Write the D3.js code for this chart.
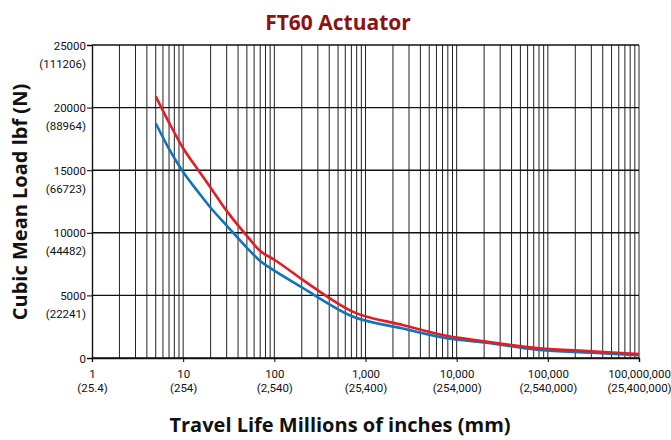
<!DOCTYPE html>
<html>
<head>
<meta charset="utf-8">
<script src="https://cdn.jsdelivr.net/npm/d3@7"></script>
<style>
body { margin: 0; background: #fff; }
svg text { font-family: "Open Sans", sans-serif; }
svg .tick text { font-family: Roboto, sans-serif; }
</style>
</head>
<body>
<script>
// travel life (millions of inches) and cubic mean load (lbf)
const travel = [5, 7, 10, 15, 20, 30, 50, 70, 100, 200, 300, 700, 2500, 8000, 20000, 80000, 300000, 1000000];
const loadRed = [20900, 18800, 16750, 14900, 13600, 11750, 9750, 8550, 7850, 6300, 5400, 3750, 2650, 1750, 1330, 780, 540, 320];
const loadBlue = [18750, 16700, 14850, 13150, 12000, 10580, 8800, 7750, 6980, 5650, 4850, 3350, 2380, 1570, 1250, 640, 420, 220];

const yTicks = [0, 5000, 10000, 15000, 20000, 25000];
const yTickNewtons = ["", "(22241)", "(44482)", "(66723)", "(88964)", "(111206)"];
const xTicks = [1, 10, 100, 1000, 10000, 100000, 1000000];
const xTickLabels = ["1", "10", "100", "1,000", "10,000", "100,000", "100,000,000"];
const xTickMm = ["(25.4)", "(254)", "(2,540)", "(25,400)", "(254,000)", "(2,540,000)", "(25,400,000)"];

function draw() {
    let width = 671, height = 440;
    let left = 92, right = 639, top = 45, bottom = 358;

    var svg = d3.select("body")
                .append("svg")
                .attr("width", width)
                .attr("height", height);

    var xScale = d3.scaleLog()
                .domain([1, 1000000])
                .range([left, right]);

    var yScale = d3.scaleLinear()
                .domain([0, 25000])
                .range([bottom, top]);

    // vertical grid: every 1..9 step inside each decade
    let minor = [];
    for (let d = 1; d < 1000000; d *= 10) {
        for (let k = 2; k <= 10; k++) minor.push(k * d);
    }
    svg.append("g")
       .selectAll("line")
       .data(minor)
       .join("line")
       .attr("x1", (d) => xScale(d))
       .attr("x2", (d) => xScale(d))
       .attr("y1", top)
       .attr("y2", bottom)
       .style("stroke", "#222")
       .style("stroke-width", 1);

    // horizontal grid
    svg.append("g")
       .selectAll("line")
       .data(yTicks)
       .join("line")
       .attr("x1", left)
       .attr("x2", right)
       .attr("y1", (d) => yScale(d))
       .attr("y2", (d) => yScale(d))
       .style("stroke", "#111")
       .style("stroke-width", 1.4);

    var yAxis = d3.axisLeft(yScale)
                .tickValues(yTicks)
                .tickSize(5)
                .tickFormat((d) => d);

    var gy = svg.append("g")
       .attr("transform", `translate(${left}, 0)`)
       .call(yAxis);
    gy.select(".domain").style("stroke", "#111").style("stroke-width", 1.4);
    gy.selectAll("text")
      .attr("x", -6)
      .attr("dy", "0.35em")
      .style("font-size", "11.5px")
      .style("fill", "#111");
    gy.selectAll(".tick")
      .append("text")
      .attr("x", -6)
      .attr("y", 18)
      .attr("dy", "0.35em")
      .attr("text-anchor", "end")
      .style("font-size", "11.5px")
      .style("fill", "#111")
      .text((d, i) => yTickNewtons[i]);

    var xAxis = d3.axisBottom(xScale)
                .tickValues(xTicks)
                .tickSize(4)
                .tickFormat((d, i) => xTickLabels[i]);

    var gx = svg.append("g")
       .attr("transform", `translate(0, ${bottom})`)
       .call(xAxis);
    gx.select(".domain").style("stroke", "#111").style("stroke-width", 1.4);
    gx.selectAll("text")
      .attr("y", 12)
      .attr("dy", "0.71em")
      .style("font-size", "11.5px")
      .style("fill", "#111");
    gx.selectAll(".tick")
      .append("text")
      .attr("y", 26)
      .attr("dy", "0.71em")
      .attr("text-anchor", "middle")
      .style("font-size", "11.5px")
      .style("fill", "#111")
      .text((d, i) => xTickMm[i]);

    var line = d3.line()
                .x((d) => xScale(d[0]))
                .y((d) => yScale(d[1]))
                .curve(d3.curveMonotoneX);

    svg.append("path")
       .attr("d", line(travel.map((t, i) => [t, loadBlue[i]])))
       .style("fill", "none")
       .style("stroke", "#1173b9")
       .style("stroke-width", 2.6);

    svg.append("path")
       .attr("d", line(travel.map((t, i) => [t, loadRed[i]])))
       .style("fill", "none")
       .style("stroke", "#e01e26")
       .style("stroke-width", 2.6);

    svg.append("text")
       .attr("x", 338)
       .attr("y", 30)
       .attr("text-anchor", "middle")
       .style("font-size", "21px")
       .style("font-weight", "bold")
       .style("fill", "#8c1212")
       .text("FT60 Actuator");

    svg.append("text")
       .attr("transform", "translate(27, 202) rotate(-90)")
       .attr("text-anchor", "middle")
       .style("font-size", "20px")
       .style("font-weight", "bold")
       .style("fill", "#111")
       .text("Cubic Mean Load lbf (N)");

    svg.append("text")
       .attr("x", 340)
       .attr("y", 432)
       .attr("text-anchor", "middle")
       .style("font-size", "20px")
       .style("font-weight", "bold")
       .style("fill", "#111")
       .text("Travel Life Millions of inches (mm)");
}

draw();
</script>
</body>
</html>
